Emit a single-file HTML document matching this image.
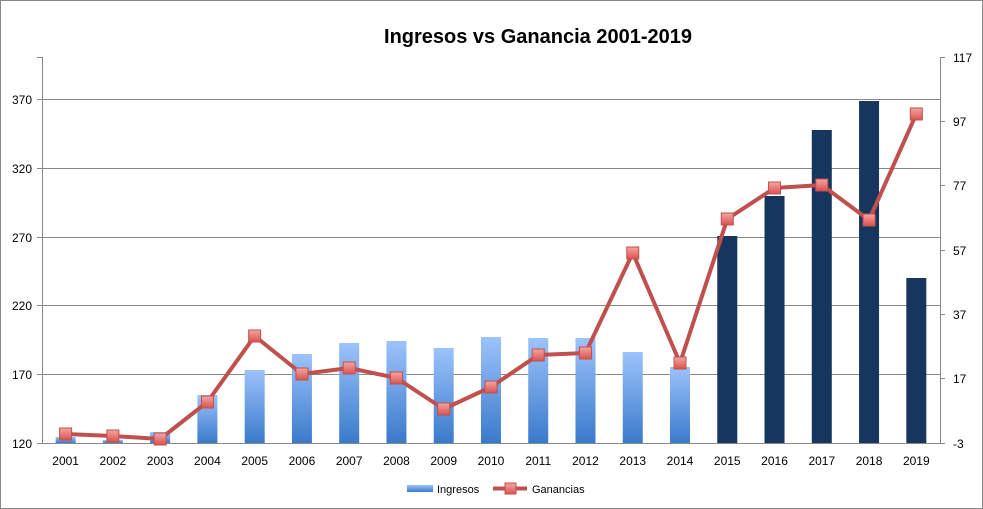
<!DOCTYPE html><html><head><style>body{margin:0;background:#fff}svg{display:block;font-family:"Liberation Sans",sans-serif}</style></head><body>
<svg width="983" height="509" viewBox="0 0 983 509">
<defs><linearGradient id="g" x1="0" y1="0" x2="0" y2="1"><stop offset="0" stop-color="#9cc3fb"/><stop offset="1" stop-color="#3a7acb"/></linearGradient>
<linearGradient id="m" x1="0" y1="0" x2="0" y2="1"><stop offset="0" stop-color="#f4a5a2"/><stop offset="1" stop-color="#d9534f"/></linearGradient></defs>
<rect x="0.5" y="0.5" width="982" height="508" fill="#fff" stroke="#888"/>
<text x="538" y="43" text-anchor="middle" font-size="20" font-weight="bold" fill="#000">Ingresos vs Ganancia 2001-2019</text>
<g stroke="#888" stroke-width="1">
<line x1="42" y1="99.5" x2="940" y2="99.5"/><line x1="42" y1="168.5" x2="940" y2="168.5"/><line x1="42" y1="237.5" x2="940" y2="237.5"/><line x1="42" y1="305.5" x2="940" y2="305.5"/><line x1="42" y1="374.5" x2="940" y2="374.5"/>
<line x1="42" y1="443.5" x2="940" y2="443.5"/>
<line x1="42.5" y1="57" x2="42.5" y2="443"/><line x1="940.5" y1="57" x2="940.5" y2="443"/>
<line x1="37" y1="99.5" x2="42" y2="99.5"/><line x1="37" y1="168.5" x2="42" y2="168.5"/><line x1="37" y1="237.5" x2="42" y2="237.5"/><line x1="37" y1="305.5" x2="42" y2="305.5"/><line x1="37" y1="374.5" x2="42" y2="374.5"/><line x1="37" y1="443.5" x2="42" y2="443.5"/><line x1="37" y1="57.5" x2="42" y2="57.5"/>
<line x1="940" y1="57.5" x2="945" y2="57.5"/><line x1="940" y1="121.5" x2="945" y2="121.5"/><line x1="940" y1="185.5" x2="945" y2="185.5"/><line x1="940" y1="250.5" x2="945" y2="250.5"/><line x1="940" y1="314.5" x2="945" y2="314.5"/><line x1="940" y1="378.5" x2="945" y2="378.5"/><line x1="940" y1="443.5" x2="945" y2="443.5"/>
</g>
<g font-size="12" fill="#000" text-anchor="end">
<text x="32" y="104">370</text><text x="32" y="173">320</text><text x="32" y="242">270</text><text x="32" y="310">220</text><text x="32" y="379">170</text><text x="32" y="448">120</text></g>
<g font-size="12" fill="#000" text-anchor="start">
<text x="953" y="62">117</text><text x="953" y="126">97</text><text x="953" y="190">77</text><text x="953" y="255">57</text><text x="953" y="319">37</text><text x="953" y="383">17</text><text x="953" y="448">-3</text></g>
<g id="bars"></g>
<g id="labels" font-size="12" text-anchor="middle"></g>
<polyline id="ln" fill="none" stroke="#c0504d" stroke-width="4" stroke-linejoin="round"/>
<g id="mk"></g>
<rect x="407" y="485" width="26" height="7" fill="url(#g)"/>
<text x="437" y="493" font-size="11">Ingresos</text>
<line x1="493" y1="488.5" x2="527" y2="488.5" stroke="#c0504d" stroke-width="4"/>
<rect x="505" y="483" width="11" height="11" fill="url(#m)" stroke="#c0504d"/>
<text x="532" y="493" font-size="11">Ganancias</text>
</svg>
<script>
var bt=[437,440,432,395,370,354,343,341,348,337,338,338,352,367,236,196,130,101,278];
var ly=[434,436,439,402,336,374,368,378,409,387,355,353,253,363,219,188,185,220,114];
var ns="http://www.w3.org/2000/svg",b=document.getElementById('bars'),l=document.getElementById('labels'),m=document.getElementById('mk'),pts=[];
for(var i=0;i<19;i++){var cx=42+47.26*(i+0.5);
var r=document.createElementNS(ns,'rect');r.setAttribute('x',cx-10);r.setAttribute('y',bt[i]);r.setAttribute('width',20);r.setAttribute('height',443-bt[i]);r.setAttribute('fill',i>=14?'#17365d':'url(#g)');b.appendChild(r);
var t=document.createElementNS(ns,'text');t.setAttribute('x',cx);t.setAttribute('y',465);t.textContent=2001+i;l.appendChild(t);
pts.push(cx+','+ly[i]);
var q=document.createElementNS(ns,'rect');q.setAttribute('x',cx-6);q.setAttribute('y',ly[i]-6);q.setAttribute('width',12);q.setAttribute('height',12);q.setAttribute('fill','url(#m)');q.setAttribute('stroke','#c0504d');m.appendChild(q);}
document.getElementById('ln').setAttribute('points',pts.join(' '));
</script>
</body></html>
